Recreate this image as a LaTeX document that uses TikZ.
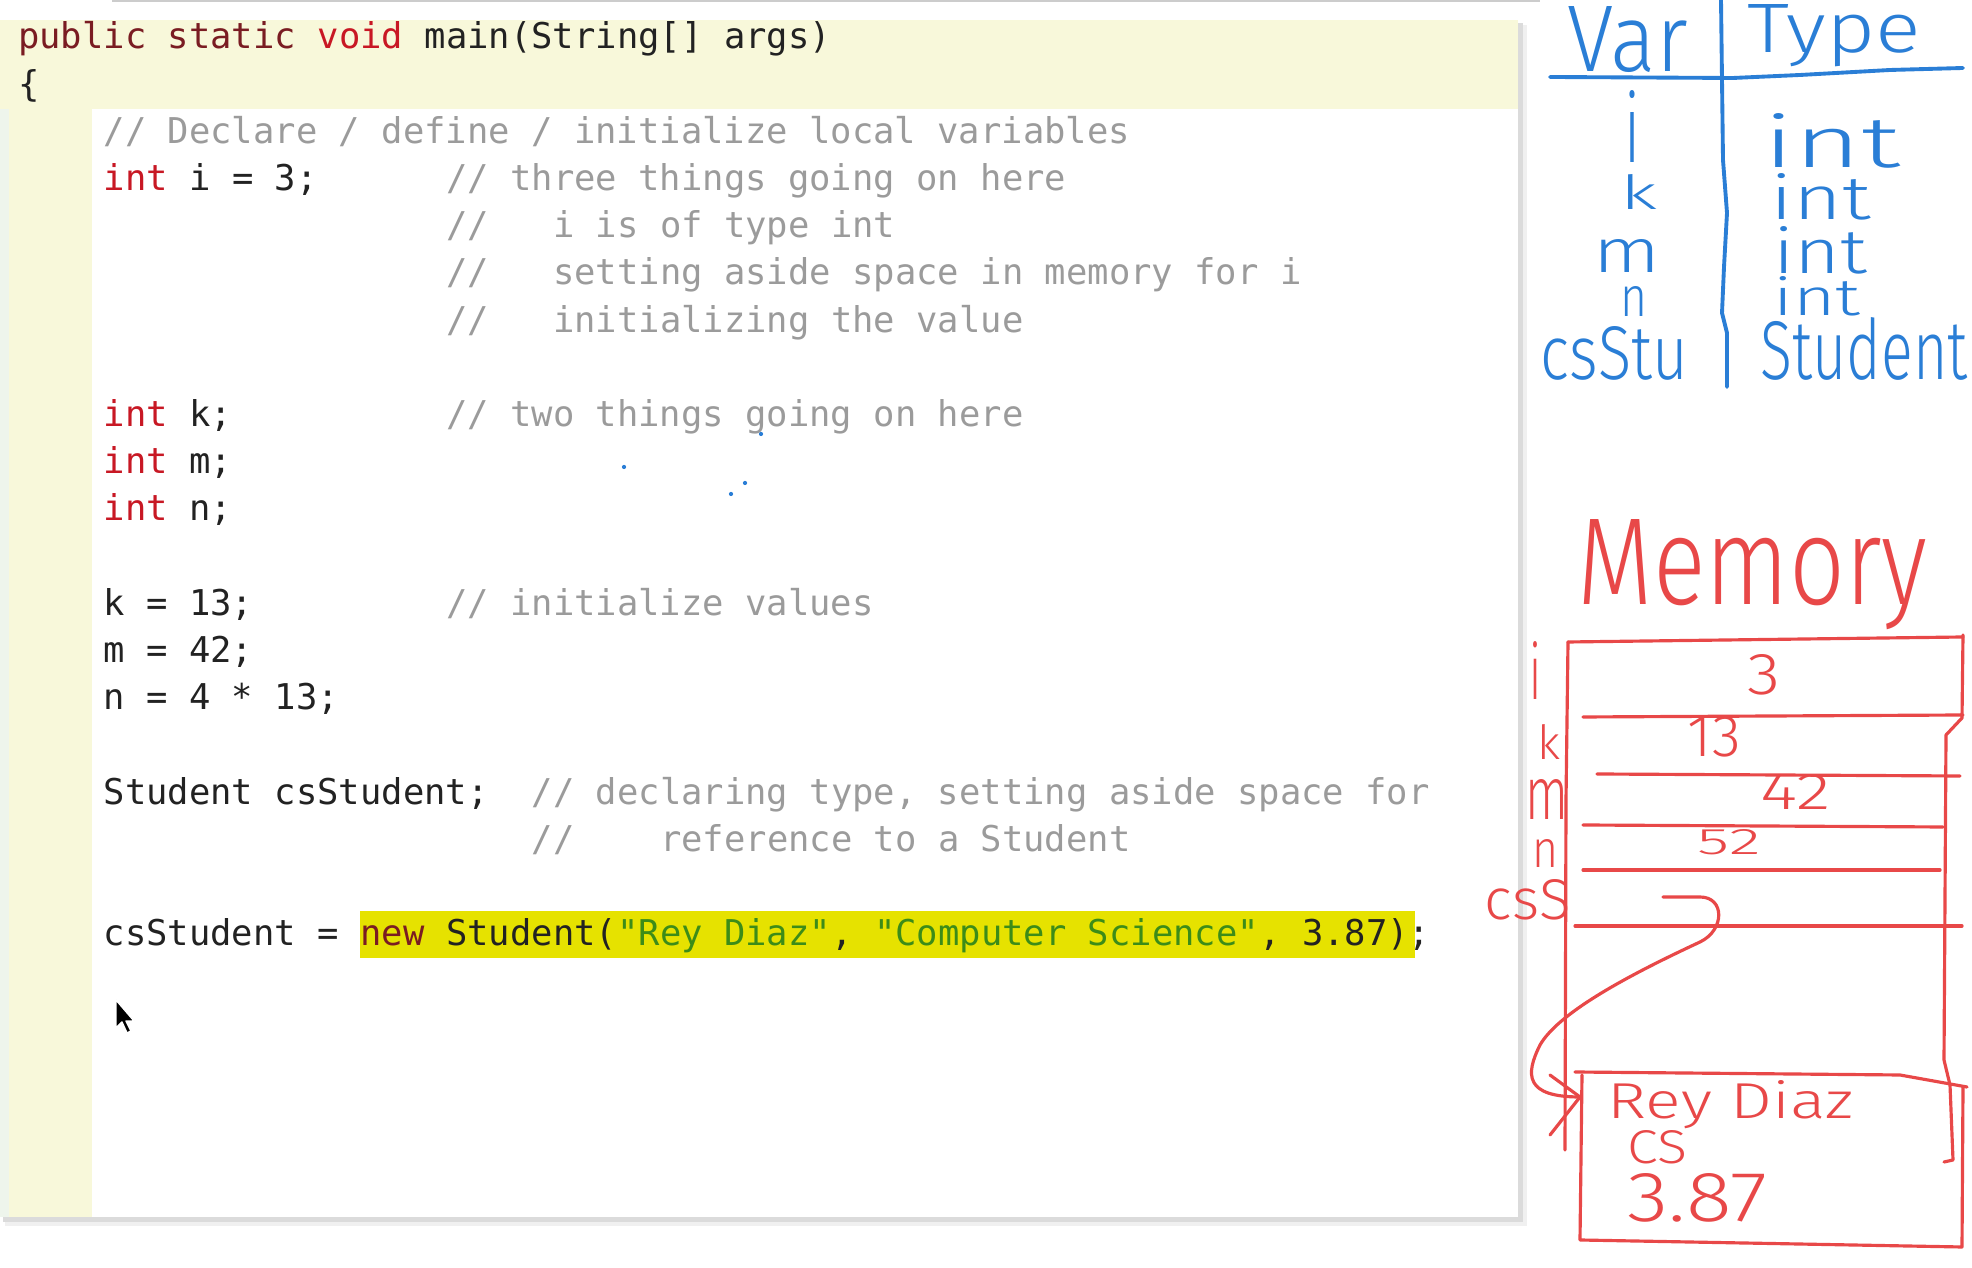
\documentclass[tikz,border=0pt]{standalone}
\usepackage{fontspec}
\usepackage{graphicx}
\setmonofont{DejaVu Sans Mono}
\IfFontExistsTF{Fira Sans Light}{\newfontfamily\handfont{Fira Sans Light}}{\newfontfamily\handfont{Fira Sans}}
\newdimen\hwu \hwu=0.01cm
\newcommand\hw[3]{\resizebox{#1\hwu}{#2\hwu}{\handfont #3}}
\definecolor{codeyellow}{RGB}{248,248,218}
\definecolor{paleedge}{RGB}{238,245,236}
\definecolor{hilite}{RGB}{230,226,0}
\definecolor{kwmaroon}{RGB}{122,28,34}
\definecolor{kwred}{RGB}{200,24,36}
\definecolor{cmtgray}{RGB}{155,155,155}
\definecolor{strgreen}{RGB}{60,140,24}
\definecolor{codeblack}{RGB}{34,34,34}
\definecolor{penblue}{RGB}{42,126,214}
\definecolor{penred}{RGB}{232,72,72}
\tikzset{
  code/.style={inner sep=0pt, font=\ttfamily\fontsize{10.1}{12}\selectfont},
  hwblue/.style={inner sep=0pt, text=penblue, anchor=base west},
  hwred/.style={inner sep=0pt, text=penred, anchor=base west},
  bluepen/.style={draw=penblue, line width=1.1pt, line cap=round, line join=round},
  redpen/.style={draw=penred, line width=0.9pt, line cap=round, line join=round},
}
\newcommand\cseg[4]{\node[code, text=#3, anchor=base west] (r#2c#1) at ({103+21.4*(#1)},{49+47.2*(#2)}) {#4};}
\begin{document}
\begin{tikzpicture}[x=0.01cm,y=-0.01cm]
\useasboundingbox (0,0) rectangle (1972,1268);
\fill[white] (0,0) rectangle (1972,1268);
% top window edge
\draw[gray!40, line width=0.8pt] (112,1) -- (1540,1);
% panel shadow and panel
\fill[gray!12] (5,25) rectangle (1527,1226);
\fill[gray!28] (3,23) rectangle (1523,1222);
\fill[white] (0,20) rectangle (1518,1217);
\fill[codeyellow] (0,20) rectangle (1518,109);
\fill[codeyellow] (0,109) rectangle (92,1217);
\fill[paleedge] (0,109) rectangle (9,1217);
% highlight
\fill[hilite] (360,911) rectangle (1415,958);
% code
\cseg{-4}{0}{kwmaroon}{public static}
\cseg{10}{0}{kwred}{void}
\cseg{15}{0}{codeblack}{main(String[] args)}
\cseg{-4}{1}{codeblack}{\{}
\cseg{0}{2}{cmtgray}{// Declare / define / initialize local variables}
\cseg{0}{3}{kwred}{int}
\cseg{4}{3}{codeblack}{i = 3;}
\cseg{16}{3}{cmtgray}{// three things going on here}
\cseg{16}{4}{cmtgray}{//}
\cseg{21}{4}{cmtgray}{i is of type int}
\cseg{16}{5}{cmtgray}{//}
\cseg{21}{5}{cmtgray}{setting aside space in memory for i}
\cseg{16}{6}{cmtgray}{//}
\cseg{21}{6}{cmtgray}{initializing the value}
\cseg{0}{8}{kwred}{int}
\cseg{4}{8}{codeblack}{k;}
\cseg{16}{8}{cmtgray}{// two things going on here}
\cseg{0}{9}{kwred}{int}
\cseg{4}{9}{codeblack}{m;}
\cseg{0}{10}{kwred}{int}
\cseg{4}{10}{codeblack}{n;}
\cseg{0}{12}{codeblack}{k = 13;}
\cseg{16}{12}{cmtgray}{// initialize values}
\cseg{0}{13}{codeblack}{m = 42;}
\cseg{0}{14}{codeblack}{n = 4 * 13;}
\cseg{0}{16}{codeblack}{Student csStudent;}
\cseg{20}{16}{cmtgray}{// declaring type, setting aside space for}
\cseg{20}{17}{cmtgray}{//}
\cseg{26}{17}{cmtgray}{reference to a Student}
\cseg{0}{19}{codeblack}{csStudent =}
\cseg{12}{19}{kwmaroon}{new}
\cseg{16}{19}{codeblack}{Student(}
\cseg{24}{19}{strgreen}{"Rey Diaz"}
\cseg{34}{19}{codeblack}{,}
\cseg{36}{19}{strgreen}{"Computer Science"}
\cseg{54}{19}{codeblack}{, 3.87);}
% mouse cursor
\filldraw[fill=black, draw=white, line width=0.4pt, line join=round] (116,1000) -- (116,1028) -- (122,1022) -- (127,1033) -- (131,1031) -- (126,1021) -- (134,1021) -- cycle;
% stray pen dots
\fill[penblue] (761,434) circle (0.6pt);
\fill[penblue] (624,467) circle (0.6pt);
\fill[penblue] (731,494) circle (0.6pt);
\fill[penblue] (745,483) circle (0.6pt);
% ---- blue Var/Type table ----
\draw[bluepen] (1721,0) -- (1723,160) -- (1727,213) -- (1724,267) -- (1722,313) -- (1727,333) -- (1727,387);
\draw[bluepen] (1550,77) -- (1733,78) -- (1800,75) -- (1890,70) -- (1963,68);
\node[hwblue] (tvar) at (1567,72) {\hw{120}{65}{Var}};
\node[hwblue] (ttype) at (1747,53) {\hw{173}{48}{Type}};
\node[hwblue] (vi) at (1624,163) {\hw{16}{72}{i}};
\node[hwblue] (ti) at (1763,168) {\hw{137}{54}{int}};
\node[hwblue] (vk) at (1620,210) {\hw{37}{35}{k}};
\node[hwblue] (tk) at (1770,220) {\hw{100}{46}{int}};
\node[hwblue] (vm) at (1593,273) {\hw{67}{33}{m}};
\node[hwblue] (tm) at (1773,274) {\hw{94}{47}{int}};
\node[hwblue] (vn) at (1620,317) {\hw{27}{30}{n}};
\node[hwblue] (tn) at (1773,316) {\hw{87}{39}{int}};
\node[hwblue] (vcs) at (1540,380) {\hw{147}{53}{csStu}};
\node[hwblue] (tcs) at (1760,380) {\hw{207}{62}{Student}};
% ---- red Memory ----
\node[hwred] (mem) at (1577,605) {\hw{350}{85}{Memory}};
\draw[redpen] (1568,642) -- (1963,637);
\draw[redpen] (1568,642) -- (1566,800) -- (1565,1150);
\draw[redpen] (1963,635) -- (1962,718) -- (1946,735) -- (1944,1060) -- (1950,1085) -- (1953,1160) -- (1944,1162);
\draw[redpen] (1583,717) -- (1963,715);
\draw[redpen] (1597,774) -- (1960,776);
\draw[redpen] (1583,825) -- (1943,827);
\draw[redpen] (1583,870) -- (1940,870);
\draw[redpen] (1575,926) -- (1962,926);
\draw[redpen] (1575,1072) -- (1900,1075) -- (1967,1087);
\draw[redpen] (1582,1075) -- (1580,1240) -- (1962,1247) -- (1963,1087);
\node[hwred] (li) at (1529,700) {\hw{12}{58}{i}};
\node[hwred] (lk) at (1537,760) {\hw{23}{35}{k}};
\node[hwred] (lm) at (1525,820) {\hw{43}{40}{m}};
\node[hwred] (ln) at (1532,868) {\hw{26}{28}{n}};
\node[hwred] (lcs) at (1484,920) {\hw{86}{40}{csS}};
\node[hwred] (v3) at (1747,695) {\hw{33}{40}{3}};
\node[hwred] (v13) at (1687,757) {\hw{53}{40}{13}};
\node[hwred] (v42) at (1760,810) {\hw{70}{35}{42}};
\node[hwred] (v52) at (1697,855) {\hw{63}{25}{52}};
\node[hwred] (oname) at (1607,1119) {\hw{246}{38}{Rey Diaz}};
\node[hwred] (omajor) at (1627,1164) {\hw{60}{33}{CS}};
\node[hwred] (ogpa) at (1627,1222) {\hw{140}{48}{3.87}};
% reference arrow
\coordinate (ptr) at (1663,897);
\coordinate (obj) at (1580,1097);
\draw[redpen] (ptr) -- (1700,897) .. controls (1725,897) and (1725,930) .. (1700,942) .. controls (1640,970) and (1560,1010) .. (1540,1045) .. controls (1525,1075) and (1525,1097) .. (obj);
\draw[redpen] (1550,1075) -- (obj) -- (1550,1135);
\end{tikzpicture}
\end{document}
